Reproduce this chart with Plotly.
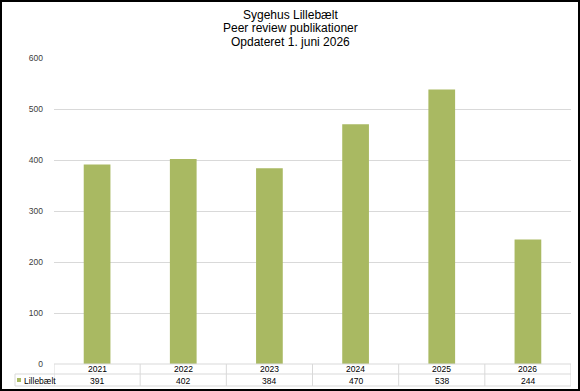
import plotly.graph_objects as go

years = ["2021", "2022", "2023", "2024", "2025", "2026"]
values = [391, 402, 384, 470, 538, 244]
series_name = "Lillebælt"
title_lines = ["Sygehus Lillebælt", "Peer review publikationer", "Opdateret 1. juni 2026"]
y_ticks = [0, 100, 200, 300, 400, 500, 600]

W, H = 580, 391
ML, MR, MT, MB = 54, 9, 58, 27
PW, PH = W - ML - MR, H - MT - MB

def px_x(p):
    return (p - ML) / PW

def px_y(p):
    return (H - MB - p) / PH

bar_color = "#A9B962"
grid_color = "#D9D9D9"
font_family = "Liberation Sans, Arial, sans-serif"

fig = go.Figure()
fig.add_trace(go.Bar(x=list(range(len(years))), y=values, marker=dict(color=bar_color, line=dict(width=0)),
                     name=series_name, showlegend=False, width=0.31))

shapes = []
annotations = []

# table horizontal lines
shapes.append(dict(type="line", xref="paper", yref="paper", x0=0, x1=1, y0=0, y1=0,
                   line=dict(color=grid_color, width=1)))
shapes.append(dict(type="line", xref="paper", yref="paper", x0=px_x(15), x1=1, y0=px_y(374), y1=px_y(374),
                   line=dict(color=grid_color, width=1)))
shapes.append(dict(type="line", xref="paper", yref="paper", x0=px_x(15), x1=1, y0=px_y(386), y1=px_y(386),
                   line=dict(color=grid_color, width=1)))
# left border of legend cell
shapes.append(dict(type="line", xref="paper", yref="paper", x0=px_x(15), x1=px_x(15), y0=px_y(374), y1=px_y(386),
                   line=dict(color=grid_color, width=1)))
# vertical category separators
for i in range(len(years) + 1):
    shapes.append(dict(type="line", xref="x", yref="paper", x0=i - 0.5, x1=i - 0.5, y0=0, y1=px_y(386),
                       line=dict(color=grid_color, width=1)))
# legend key square
shapes.append(dict(type="rect", xref="paper", yref="paper", x0=px_x(17), x1=px_x(21), y0=px_y(382), y1=px_y(378),
                   fillcolor=bar_color, line=dict(width=0)))
# outer border
shapes.append(dict(type="rect", xref="paper", yref="paper", x0=px_x(1), x1=px_x(579), y0=px_y(1), y1=px_y(390),
                   line=dict(color="black", width=2), fillcolor="rgba(0,0,0,0)"))

for i, (y, v) in enumerate(zip(years, values)):
    annotations.append(dict(x=i, xref="x", y=px_y(369), yref="paper", text=y, showarrow=False,
                            font=dict(size=8.5, color="#000000", family=font_family), yanchor="middle"))
    annotations.append(dict(x=i, xref="x", y=px_y(380.5), yref="paper", text=str(v), showarrow=False,
                            font=dict(size=8.5, color="#000000", family=font_family), yanchor="middle"))

annotations.append(dict(x=px_x(22), xref="paper", y=px_y(380.5), yref="paper", text=series_name, showarrow=False,
                        xanchor="left", yanchor="middle", font=dict(size=8.5, color="#000000", family=font_family)))

for i, t in enumerate(title_lines):
    annotations.append(dict(x=px_x(290), xref="paper", y=px_y(14.5 + 14 * i), yref="paper", text=t, showarrow=False,
                            xanchor="center", yanchor="middle",
                            font=dict(size=12, color="#000000", family=font_family)))

fig.update_layout(
    width=W, height=H,
    margin=dict(l=ML, r=MR, t=MT, b=MB, pad=0),
    paper_bgcolor="white", plot_bgcolor="white",
    shapes=shapes, annotations=annotations,
    showlegend=False,
    xaxis=dict(showticklabels=False, showgrid=False, zeroline=False, showline=False,
               range=[-0.5, 5.5], fixedrange=True),
    yaxis=dict(range=[0, 600], tickvals=y_ticks, showgrid=True, gridcolor=grid_color, gridwidth=1,
               zeroline=False, showline=False, ticks="", ticklabelstandoff=10,
               tickfont=dict(size=8.5, color="#404040", family=font_family)),
)

fig.write_html("out.html")
